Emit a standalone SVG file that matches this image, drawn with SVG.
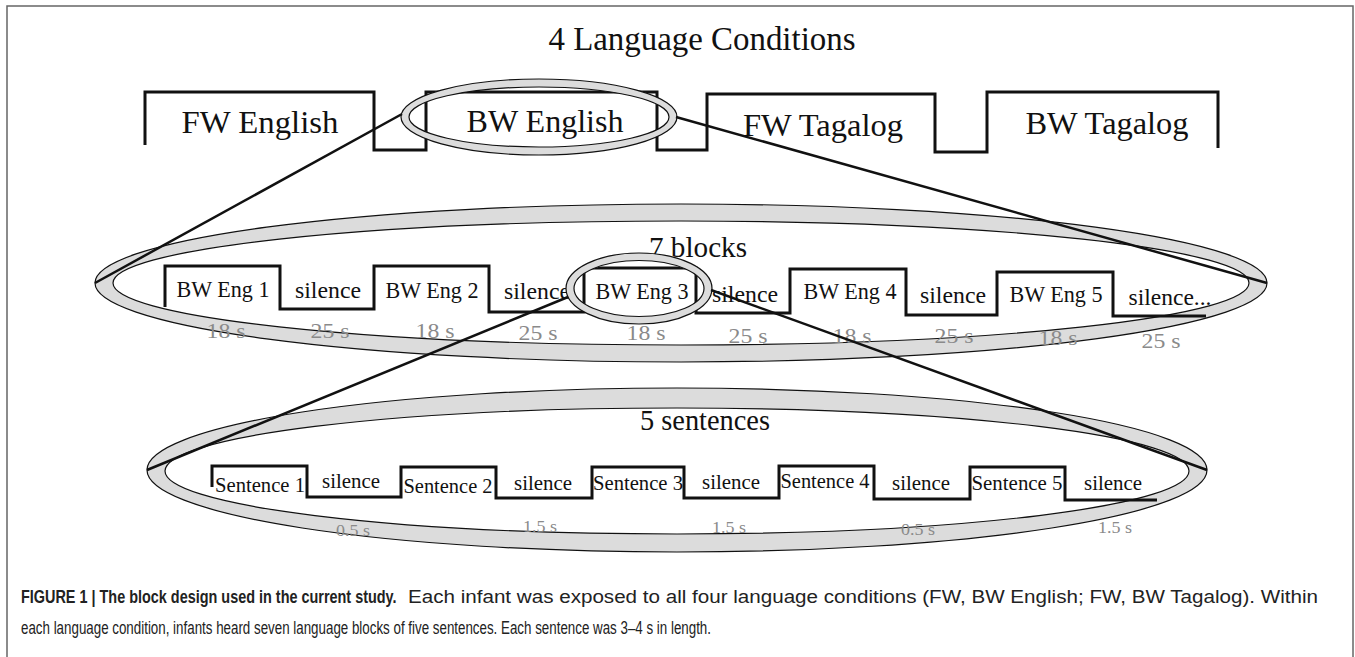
<svg xmlns="http://www.w3.org/2000/svg" width="1355" height="657" viewBox="0 0 1355 657">
<style>
.frame{fill:none;stroke:#666;stroke-width:1.5}
.ring{fill:#dcdcdc;fill-rule:evenodd;stroke:#111;stroke-width:1.2}
.wave{fill:none;stroke:#111;stroke-width:3;stroke-linejoin:miter}
.conn{stroke:#111;stroke-width:2.5;fill:none}
.t{font-family:"Liberation Serif",serif;fill:#111;text-anchor:middle}
.g{font-family:"Liberation Serif",serif;fill:#8a8a8a;text-anchor:middle}
.cap{font-family:"Liberation Sans",Arial,sans-serif;font-size:17.5px;fill:#222}
</style>
<rect class="frame" x="7" y="6" width="1346" height="700"/>
<g id="title"><text class="t" x="702" y="50" font-size="33" textLength="307" lengthAdjust="spacingAndGlyphs">4 Language Conditions</text></g>

<g id="blocks-ring"><path class="ring" d="M95,283 a586,79 0 1,0 1172,0 a586,79 0 1,0 -1172,0 Z M113,283 a568,62 0 1,0 1136,0 a568,62 0 1,0 -1136,0 Z"/></g>
<g id="sentences-ring"><path class="ring" d="M147,470 a530,82 0 1,0 1060,0 a530,82 0 1,0 -1060,0 Z M165,471 a512,63 0 1,0 1024,0 a512,63 0 1,0 -1024,0 Z"/></g>

<g id="conditions">
<path class="wave" d="M145,145 V92 H374 V150 H426 V92 H657 V150 H707 V94 H935 V152 H987 V92 H1218 V148"/>
<text class="t" x="260" y="133" font-size="32" textLength="157" lengthAdjust="spacingAndGlyphs">FW English</text>
<text class="t" x="545" y="132" font-size="32" textLength="157" lengthAdjust="spacingAndGlyphs">BW English</text>
<text class="t" x="823" y="136" font-size="32" textLength="160" lengthAdjust="spacingAndGlyphs">FW Tagalog</text>
<text class="t" x="1107" y="134" font-size="32" textLength="163" lengthAdjust="spacingAndGlyphs">BW Tagalog</text>
</g>

<g id="blocks">
<text class="t" x="698" y="257" font-size="29" textLength="98" lengthAdjust="spacingAndGlyphs">7 blocks</text>
<path class="wave" d="M165,307 V266 H280 V309 H374 V266 H489 V312 H584 V268 H696 V313 H790 V269 H906 V315 H997 V272 H1113 V316 H1206"/>
<g font-size="23">
<text class="t" x="223" y="297" textLength="93" lengthAdjust="spacingAndGlyphs">BW Eng 1</text>
<text class="t" x="328" y="298" textLength="66" lengthAdjust="spacingAndGlyphs">silence</text>
<text class="t" x="432" y="298" textLength="93" lengthAdjust="spacingAndGlyphs">BW Eng 2</text>
<text class="t" x="537" y="299" textLength="66" lengthAdjust="spacingAndGlyphs">silence</text>
<text class="t" x="642" y="299" textLength="93" lengthAdjust="spacingAndGlyphs">BW Eng 3</text>
<text class="t" x="745" y="302" textLength="66" lengthAdjust="spacingAndGlyphs">silence</text>
<text class="t" x="850" y="299" textLength="93" lengthAdjust="spacingAndGlyphs">BW Eng 4</text>
<text class="t" x="953" y="303" textLength="66" lengthAdjust="spacingAndGlyphs">silence</text>
<text class="t" x="1056" y="302" textLength="93" lengthAdjust="spacingAndGlyphs">BW Eng 5</text>
<text class="t" x="1170" y="305" textLength="83" lengthAdjust="spacingAndGlyphs">silence...</text>
</g>
<g font-size="22">
<text class="g" x="226" y="338" textLength="39" lengthAdjust="spacingAndGlyphs">18 s</text>
<text class="g" x="330" y="338" textLength="39" lengthAdjust="spacingAndGlyphs">25 s</text>
<text class="g" x="435" y="338" textLength="39" lengthAdjust="spacingAndGlyphs">18 s</text>
<text class="g" x="538" y="340" textLength="39" lengthAdjust="spacingAndGlyphs">25 s</text>
<text class="g" x="646" y="340" textLength="39" lengthAdjust="spacingAndGlyphs">18 s</text>
<text class="g" x="748" y="343" textLength="39" lengthAdjust="spacingAndGlyphs">25 s</text>
<text class="g" x="852" y="343" textLength="39" lengthAdjust="spacingAndGlyphs">18 s</text>
<text class="g" x="954" y="343" textLength="39" lengthAdjust="spacingAndGlyphs">25 s</text>
<text class="g" x="1058" y="345" textLength="39" lengthAdjust="spacingAndGlyphs">18 s</text>
<text class="g" x="1161" y="348" textLength="39" lengthAdjust="spacingAndGlyphs">25 s</text>
</g>
</g>

<g id="sentences">
<text class="t" x="705" y="430" font-size="29" textLength="130" lengthAdjust="spacingAndGlyphs">5 sentences</text>
<path class="wave" d="M212,487 V466 H307 V497 H401 V467 H496 V498 H592 V467 H684 V498 H779 V466 H874 V499 H970 V467 H1065 V500 H1157"/>
<g font-size="21">
<text class="t" x="260" y="492" textLength="90" lengthAdjust="spacingAndGlyphs">Sentence 1</text>
<text class="t" x="351" y="488" textLength="58" lengthAdjust="spacingAndGlyphs">silence</text>
<text class="t" x="448" y="493" textLength="89" lengthAdjust="spacingAndGlyphs">Sentence 2</text>
<text class="t" x="543" y="490" textLength="58" lengthAdjust="spacingAndGlyphs">silence</text>
<text class="t" x="638" y="490" textLength="90" lengthAdjust="spacingAndGlyphs">Sentence 3</text>
<text class="t" x="731" y="489" textLength="58" lengthAdjust="spacingAndGlyphs">silence</text>
<text class="t" x="825" y="488" textLength="89" lengthAdjust="spacingAndGlyphs">Sentence 4</text>
<text class="t" x="921" y="490" textLength="58" lengthAdjust="spacingAndGlyphs">silence</text>
<text class="t" x="1017" y="490" textLength="91" lengthAdjust="spacingAndGlyphs">Sentence 5</text>
<text class="t" x="1113" y="490" textLength="58" lengthAdjust="spacingAndGlyphs">silence</text>
</g>
<g font-size="16">
<text class="g" x="353" y="536" textLength="34" lengthAdjust="spacingAndGlyphs">0.5 s</text>
<text class="g" x="540" y="532" textLength="34" lengthAdjust="spacingAndGlyphs">1.5 s</text>
<text class="g" x="729" y="533" textLength="34" lengthAdjust="spacingAndGlyphs">1.5 s</text>
<text class="g" x="918" y="535" textLength="34" lengthAdjust="spacingAndGlyphs">0.5 s</text>
<text class="g" x="1115" y="533" textLength="34" lengthAdjust="spacingAndGlyphs">1.5 s</text>
</g>
</g>

<g id="english-ring"><path class="ring" d="M401,117 a138,38 0 1,0 276,0 a138,38 0 1,0 -276,0 Z M409,117 a130,30 0 1,0 260,0 a130,30 0 1,0 -260,0 Z"/></g>
<g id="eng3-ring"><path class="ring" d="M566,288.5 a73,35.5 0 1,0 146,0 a73,35.5 0 1,0 -146,0 Z M574,288.5 a65,28 0 1,0 130,0 a65,28 0 1,0 -130,0 Z"/></g>

<g id="connectors">
<line class="conn" x1="402" y1="114" x2="95" y2="283"/>
<line class="conn" x1="676" y1="117" x2="1267" y2="283"/>
<line class="conn" x1="568" y1="297" x2="147" y2="470"/>
<line class="conn" x1="711" y1="290" x2="1207" y2="470"/>
</g>

<g id="caption">
<text class="cap" transform="translate(21,603) scale(0.82,1)" x="0" y="0" font-weight="bold" textLength="458" lengthAdjust="spacingAndGlyphs">FIGURE 1 | The block design used in the current study.</text>
<text class="cap" x="408" y="603" textLength="910" lengthAdjust="spacingAndGlyphs">Each infant was exposed to all four language conditions (FW, BW English; FW, BW Tagalog). Within</text>
<text class="cap" x="21" y="634" textLength="690" lengthAdjust="spacingAndGlyphs">each language condition, infants heard seven language blocks of five sentences. Each sentence was 3–4 s in length.</text>
</g>
</svg>
